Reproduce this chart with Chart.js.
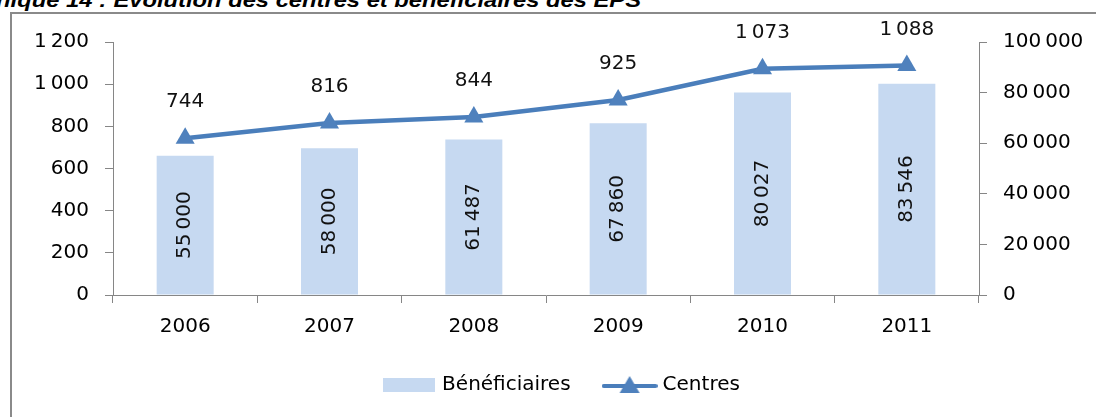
<!DOCTYPE html>
<html>
<head>
<meta charset="utf-8">
<script src="https://cdn.jsdelivr.net/npm/chart.js@4.4.1/dist/chart.umd.min.js"></script>
<style>
  html, body { margin: 0; padding: 0; background: #fff; }
  body { width: 1096px; height: 417px; position: relative; overflow: hidden; }
  #titre {
    position: absolute; left: -359px; top: -11px; width: 1000px; text-align: right;
    font: italic bold 21px "Liberation Sans", Arial, sans-serif; line-height: 21px; color: #000;
    white-space: nowrap; transform: scaleX(1.13); transform-origin: right top;
  }
  #cadre {
    position: absolute; left: 10px; top: 12px; width: 1200px; height: 500px;
    border-left: 2px solid #8a8a8a; border-top: 2px solid #8a8a8a;
  }
  #chart { position: absolute; left: 0; top: 0; }
</style>
</head>
<body>
<div id="titre">Graphique 14 : Evolution des centres et bénéficiaires des EPS</div>
<div id="cadre"></div>
<canvas id="chart" width="1096" height="417"></canvas>
<script>
const annees = ["2006", "2007", "2008", "2009", "2010", "2011"];
const beneficiaires = [55000, 58000, 61487, 67860, 80027, 83546];
const centres = [744, 816, 844, 925, 1073, 1088];
const ticksCentres = [0, 200, 400, 600, 800, 1000, 1200];
const ticksBenef = [0, 20000, 40000, 60000, 80000, 100000];

const FONT = { family: "'DejaVu Sans', sans-serif", size: 20 };
const GRIS = "#868686";
const BLEU_BARRE = "#C6D9F1";
const BLEU_LIGNE = "#4A7EBB";
const BLEU_POINT = "#4F81BD";

// séparateur de milliers étroit, comme dans Excel
function fmt(n) {
  return String(n).replace(/\B(?=(\d{3})+(?!\d))/g, "\u2009");
}

// pastilles de légende
function pastilleBarre() {
  const c = document.createElement("canvas");
  c.width = 52;
  c.height = 14;
  const ctx = c.getContext("2d");
  ctx.fillStyle = BLEU_BARRE;
  ctx.fillRect(0, 0, 52, 14);
  return c;
}

function pastilleLigne() {
  const c = document.createElement("canvas");
  c.width = 56;
  c.height = 20;
  const ctx = c.getContext("2d");
  ctx.strokeStyle = BLEU_LIGNE;
  ctx.lineWidth = 4;
  ctx.lineCap = "round";
  ctx.beginPath();
  ctx.moveTo(2, 11);
  ctx.lineTo(54, 11);
  ctx.stroke();
  ctx.fillStyle = BLEU_POINT;
  ctx.beginPath();
  ctx.moveTo(28, 1);
  ctx.lineTo(38, 18);
  ctx.lineTo(18, 18);
  ctx.closePath();
  ctx.fill();
  return c;
}

const imgBarre = pastilleBarre();
const imgLigne = pastilleLigne();

// étiquettes de valeurs
const etiquettes = {
  id: "etiquettes",
  afterDatasetsDraw(chart) {
    const ctx = chart.ctx;
    ctx.save();
    ctx.font = `${FONT.size}px ${FONT.family}`;
    ctx.fillStyle = "#111";
    ctx.textAlign = "center";
    ctx.textBaseline = "middle";
    chart.data.datasets.forEach((ds, i) => {
      const meta = chart.getDatasetMeta(i);
      meta.data.forEach((el, j) => {
        const txt = fmt(ds.data[j]);
        if (ds.type === "bar") {
          ctx.save();
          ctx.translate(el.x, (el.y + el.base) / 2);
          ctx.rotate(-Math.PI / 2);
          ctx.fillText(txt, 0, 0);
          ctx.restore();
        } else {
          ctx.fillText(txt, el.x, el.y - 36);
        }
      });
    });
    ctx.restore();
  },
  afterLayout(chart) {
    // décale la légende vers la droite comme dans l'original
    if (chart.legend) {
      chart.legend.left += 15;
      chart.legend.right += 15;
    }
  },
};

new Chart(document.getElementById("chart"), {
  data: {
    labels: annees,
    datasets: [
      {
        type: "bar",
        label: "Bénéficiaires",
        data: beneficiaires,
        yAxisID: "y1",
        backgroundColor: BLEU_BARRE,
        barPercentage: 0.395,
        categoryPercentage: 1,
        order: 2,
      },
      {
        type: "line",
        label: "Centres",
        data: centres,
        yAxisID: "y",
        borderColor: BLEU_LIGNE,
        borderWidth: 4.5,
        pointStyle: "triangle",
        pointRadius: 11,
        pointBackgroundColor: BLEU_POINT,
        pointBorderWidth: 0,
        tension: 0,
        order: 1,
      },
    ],
  },
  options: {
    responsive: false,
    devicePixelRatio: 1,
    animation: false,
    layout: { padding: { top: 42, bottom: 12, left: 0, right: 0 } },
    plugins: {
      tooltip: { enabled: false },
      legend: {
        position: "bottom",
        labels: {
          usePointStyle: true,
          pointStyleWidth: 46,
          padding: 36,
          color: "#000",
          font: FONT,
          generateLabels: () => [
            { text: "Bénéficiaires", pointStyle: imgBarre, datasetIndex: 0, hidden: false, lineWidth: 0, fontColor: "#000" },
            { text: "Centres", pointStyle: imgLigne, datasetIndex: 1, hidden: false, lineWidth: 0, fontColor: "#000" },
          ],
        },
      },
    },
    scales: {
      x: {
        type: "category",
        offset: true,
        grid: { offset: true, drawOnChartArea: false, drawTicks: true, tickLength: 8, color: GRIS },
        border: { color: GRIS },
        ticks: { font: FONT, color: "#000", padding: 12, maxRotation: 0 },
        afterFit: (s) => { s.height = 44; },
      },
      y: {
        position: "left",
        min: 0,
        max: 1200,
        afterBuildTicks: (s) => { s.ticks = ticksCentres.map((v) => ({ value: v })); },
        grid: { drawOnChartArea: false, drawTicks: true, tickLength: 8, color: GRIS },
        border: { color: GRIS },
        ticks: { font: FONT, color: "#000", padding: 16, callback: (v) => fmt(v) },
        afterFit: (s) => { s.width = 113; },
      },
      y1: {
        position: "right",
        min: 0,
        max: 100000,
        afterBuildTicks: (s) => { s.ticks = ticksBenef.map((v) => ({ value: v })); },
        grid: { drawOnChartArea: false, drawTicks: true, tickLength: 8, color: GRIS },
        border: { color: GRIS },
        ticks: { font: FONT, color: "#000", padding: 16, callback: (v) => fmt(v) },
        afterFit: (s) => { s.width = 117; },
      },
    },
  },
  plugins: [etiquettes],
});
</script>
</body>
</html>
